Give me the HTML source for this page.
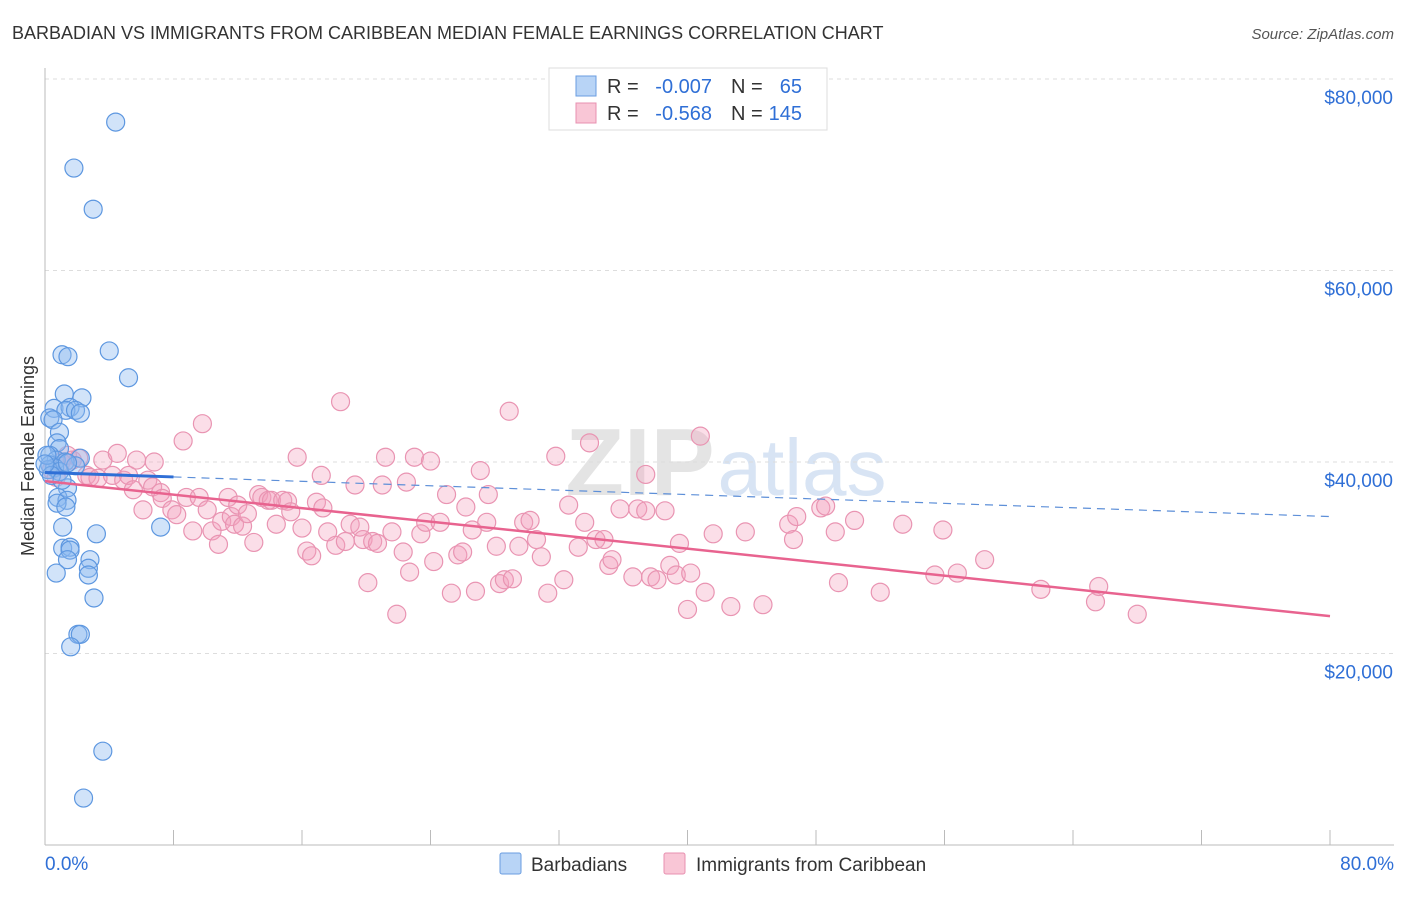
<!DOCTYPE html>
<html><head><meta charset="utf-8">
<style>
body{margin:0;background:#fff;font-family:"Liberation Sans",sans-serif;}
svg text{font-family:"Liberation Sans",sans-serif;}
</style></head>
<body>
<svg id="chart" width="1406" height="892" xmlns="http://www.w3.org/2000/svg">
<text x="12" y="39" font-size="18" fill="#333">BARBADIAN VS IMMIGRANTS FROM CARIBBEAN MEDIAN FEMALE EARNINGS CORRELATION CHART</text>
<text x="1394" y="39" font-size="15" fill="#555" text-anchor="end" font-style="italic">Source: ZipAtlas.com</text>
<text x="640" y="495" font-size="96" fill="#e4e4e4" font-family="Liberation Serif" font-weight="bold" text-anchor="middle">ZIP</text>
<text x="802" y="495" font-size="80" fill="#d8e4f4" text-anchor="middle">atlas</text>
<g id="grid"></g>
<g id="axes"></g>
<g id="marks"></g>
<text x="34" y="456" font-size="18" fill="#333" text-anchor="middle" transform="rotate(-90 34 456)">Median Female Earnings</text>
<g>
<rect x="549" y="68" width="278" height="62" fill="#fff" stroke="#ddd"/>
<rect x="576" y="76" width="20" height="20" fill="#b8d4f6" stroke="#6a9de0"/>
<rect x="576" y="103" width="20" height="20" fill="#f9c6d6" stroke="#e890b0"/>
<text x="607" y="93" font-size="20" fill="#333">R =</text>
<text x="712" y="93" font-size="20" fill="#2f6fd6" text-anchor="end">-0.007</text>
<text x="731" y="93" font-size="20" fill="#333">N =</text>
<text x="802" y="93" font-size="20" fill="#2f6fd6" text-anchor="end">65</text>
<text x="607" y="120" font-size="20" fill="#333">R =</text>
<text x="712" y="120" font-size="20" fill="#2f6fd6" text-anchor="end">-0.568</text>
<text x="731" y="120" font-size="20" fill="#333">N =</text>
<text x="802" y="120" font-size="20" fill="#2f6fd6" text-anchor="end">145</text>
</g>
<g>
<rect x="500" y="853" width="21" height="21" fill="#b8d4f6" stroke="#6a9de0" rx="2"/>
<text x="531" y="871" font-size="19" fill="#333">Barbadians</text>
<rect x="664" y="853" width="21" height="21" fill="#f9c6d6" stroke="#e890b0" rx="2"/>
<text x="696" y="871" font-size="19" fill="#333">Immigrants from Caribbean</text>
</g>
</svg>
<script>
const blueX=[4.4,1.8,3.0,4.0,1.06,1.43,5.2,1.2,2.3,0.56,1.56,1.3,1.9,2.2,0.3,0.5,0.9,0.75,0.9,0.3,2.2,0.7,1.25,0.3,0.6,1.9,0.2,0.9,0.4,1.4,0.8,1.37,0.75,1.3,1.1,7.2,3.2,1.1,1.56,1.56,1.4,2.8,0.7,2.7,2.7,3.05,2.05,2.2,1.6,3.6,2.4,0.12,0,1.06,1.4];
const blueY=[75.5,70.7,66.4,51.6,51.2,51.0,48.8,47.1,46.7,45.6,45.7,45.4,45.4,45.1,44.6,44.4,43.1,42.0,41.4,40.7,40.4,40.2,40.0,39.7,39.4,39.6,39.2,39.0,38.6,37.3,36.3,36.0,35.7,35.3,33.2,33.2,32.5,31.0,31.1,30.8,29.8,29.8,28.4,28.9,28.2,25.8,22.0,22.0,20.7,9.8,4.9,40.7,39.8,38.1,39.9];
const pinkX=[0.4,0.7,1.0,1.4,1.7,2.1,2.6,2.8,3.3,3.6,4.2,4.5,4.9,5.2,5.5,5.7,6.1,6.4,6.7,6.8,7.2,7.3,7.9,8.2,8.6,8.8,9.2,9.6,9.8,10.1,10.4,10.8,11.0,11.4,11.6,11.8,12.0,12.3,12.6,13.0,13.3,13.5,13.9,14.1,14.4,14.8,15.1,15.3,15.7,16.0,16.3,16.6,16.9,17.2,17.3,17.6,18.1,18.4,18.7,19.0,19.3,19.6,19.8,20.1,20.4,20.7,21.0,21.2,21.6,21.9,22.3,22.5,22.7,23.0,23.4,23.7,24.0,24.2,24.6,25.0,25.3,25.7,26.0,26.2,26.6,26.8,27.1,27.5,27.6,28.1,28.3,28.6,28.9,29.1,29.5,29.8,30.2,30.6,30.9,31.3,31.8,32.3,32.6,33.2,33.6,33.9,34.3,34.8,35.1,35.3,35.8,36.6,36.9,37.4,37.7,38.1,38.6,38.9,39.3,39.5,40.0,40.2,40.8,41.1,41.6,42.7,43.6,44.7,46.3,46.6,46.8,48.3,48.6,49.2,49.4,50.4,52.0,53.4,55.4,55.9,56.8,58.5,62.0,65.4,65.6,68.0,37.4];
const pinkY=[39.2,38.4,40.0,40.7,40.2,40.4,38.6,38.4,38.3,40.2,38.6,40.9,38.1,38.6,37.1,40.2,35.0,38.1,37.4,40.0,36.8,36.2,35.0,34.5,42.2,36.3,32.8,36.3,44.0,35.0,32.8,31.4,33.8,36.3,34.3,33.5,35.5,33.3,34.6,31.6,36.6,36.3,36.0,36.0,33.5,36.0,35.9,34.8,40.5,33.1,30.7,30.2,35.8,38.6,35.2,32.7,31.3,46.3,31.7,33.5,37.6,33.2,31.9,27.4,31.7,31.5,37.6,40.5,32.7,24.1,30.6,37.9,28.5,40.5,32.5,33.7,40.1,29.6,33.7,36.6,26.3,30.3,30.6,35.3,32.9,26.5,39.1,33.7,36.6,31.2,27.3,27.7,45.3,27.8,31.2,33.7,33.9,31.9,30.1,26.3,40.6,27.7,35.5,31.1,33.7,42.0,31.9,31.9,29.2,29.8,35.1,28.0,35.1,34.9,28.0,27.7,34.9,29.2,28.2,31.5,24.6,28.4,42.7,26.4,32.5,24.9,32.7,25.1,33.5,31.9,34.3,35.2,35.4,32.7,27.4,33.9,26.4,33.5,28.2,32.9,28.4,29.8,26.7,25.4,27.0,24.1,38.7];
const yTicks=[20000,40000,60000,80000];
const yTickLabels=["$20,000","$40,000","$60,000","$80,000"];
const xTickLabels=["0.0%","80.0%"];
const blueTrend=[38.9,34.3];   // value (k) at 0% and 80%
const blueSolidEnd=[8.0];      // solid segment ends at 8%
const pinkTrend=[38.0,23.9];   // value (k) at 0% and 80%

const NS="http://www.w3.org/2000/svg";
const sx=v=>45+v/80*1285;
const sy=v=>845-v/20000*191.5;
const syk=v=>sy(v*1000);
function mk(tag,attrs,parent){const e=document.createElementNS(NS,tag);for(const k in attrs)e.setAttribute(k,attrs[k]);parent.appendChild(e);return e;}
const gridG=document.getElementById('grid'),axesG=document.getElementById('axes'),marksG=document.getElementById('marks');
yTicks.forEach((t,i)=>{
  const l=mk('line',{x1:45,x2:1394,y1:sy(t),y2:sy(t),stroke:'#ddd','stroke-dasharray':'4,4'},gridG);
  
  
  const tx=mk('text',{x:1393,y:sy(t)+25,'font-size':19,fill:'#2f6fd6','text-anchor':'end'},axesG);
  tx.textContent=yTickLabels[i];
  
  
});
const topLine=mk('line',{x1:45,x2:1394,y1:79,y2:79,stroke:'#ddd','stroke-dasharray':'4,4'},gridG);


const yax=mk('line',{x1:45,x2:45,y1:68,y2:845,stroke:'#bbb'},axesG);


const xax=mk('line',{x1:45,x2:1394,y1:845,y2:845,stroke:'#bbb'},axesG);


for(let p=0;p<=80;p+=8){
  const t=mk('line',{x1:sx(p),x2:sx(p),y1:830,y2:845,stroke:'#bbb'},axesG);
  
  
}
[[0,'start',45],[80,'end',1394]].forEach((a,i)=>{
  const t=mk('text',{x:a[2],y:870,'font-size':19,fill:'#2f6fd6','text-anchor':a[1]},axesG);
  t.textContent=xTickLabels[i];
  
  
});
pinkX.forEach((x,i)=>{
  const c=mk('circle',{cx:sx(x),cy:syk(pinkY[i]),r:9,fill:'rgba(244,160,188,0.35)',stroke:'#e994b2','stroke-width':1.2},marksG);
  
  
});
blueX.forEach((x,i)=>{
  const c=mk('circle',{cx:sx(x),cy:syk(blueY[i]),r:9,fill:'rgba(140,185,240,0.4)',stroke:'#5d97e0','stroke-width':1.2},marksG);
  
  
});
const bm=blueTrend[0]+(blueTrend[1]-blueTrend[0])*blueSolidEnd[0]/80;
const bd=mk('line',{x1:sx(blueSolidEnd[0]),y1:syk(bm),x2:sx(80),y2:syk(blueTrend[1]),stroke:'#5d8fd8','stroke-width':1.2,'stroke-dasharray':'8,6'},marksG);


const bs=mk('line',{x1:sx(0),y1:syk(blueTrend[0]),x2:sx(blueSolidEnd[0]),y2:syk(bm),stroke:'#2f6fd6','stroke-width':3},marksG);


const pl=mk('line',{x1:sx(0),y1:syk(pinkTrend[0]),x2:sx(80),y2:syk(pinkTrend[1]),stroke:'#e8638f','stroke-width':2.5},marksG);


</script>
</body></html>
